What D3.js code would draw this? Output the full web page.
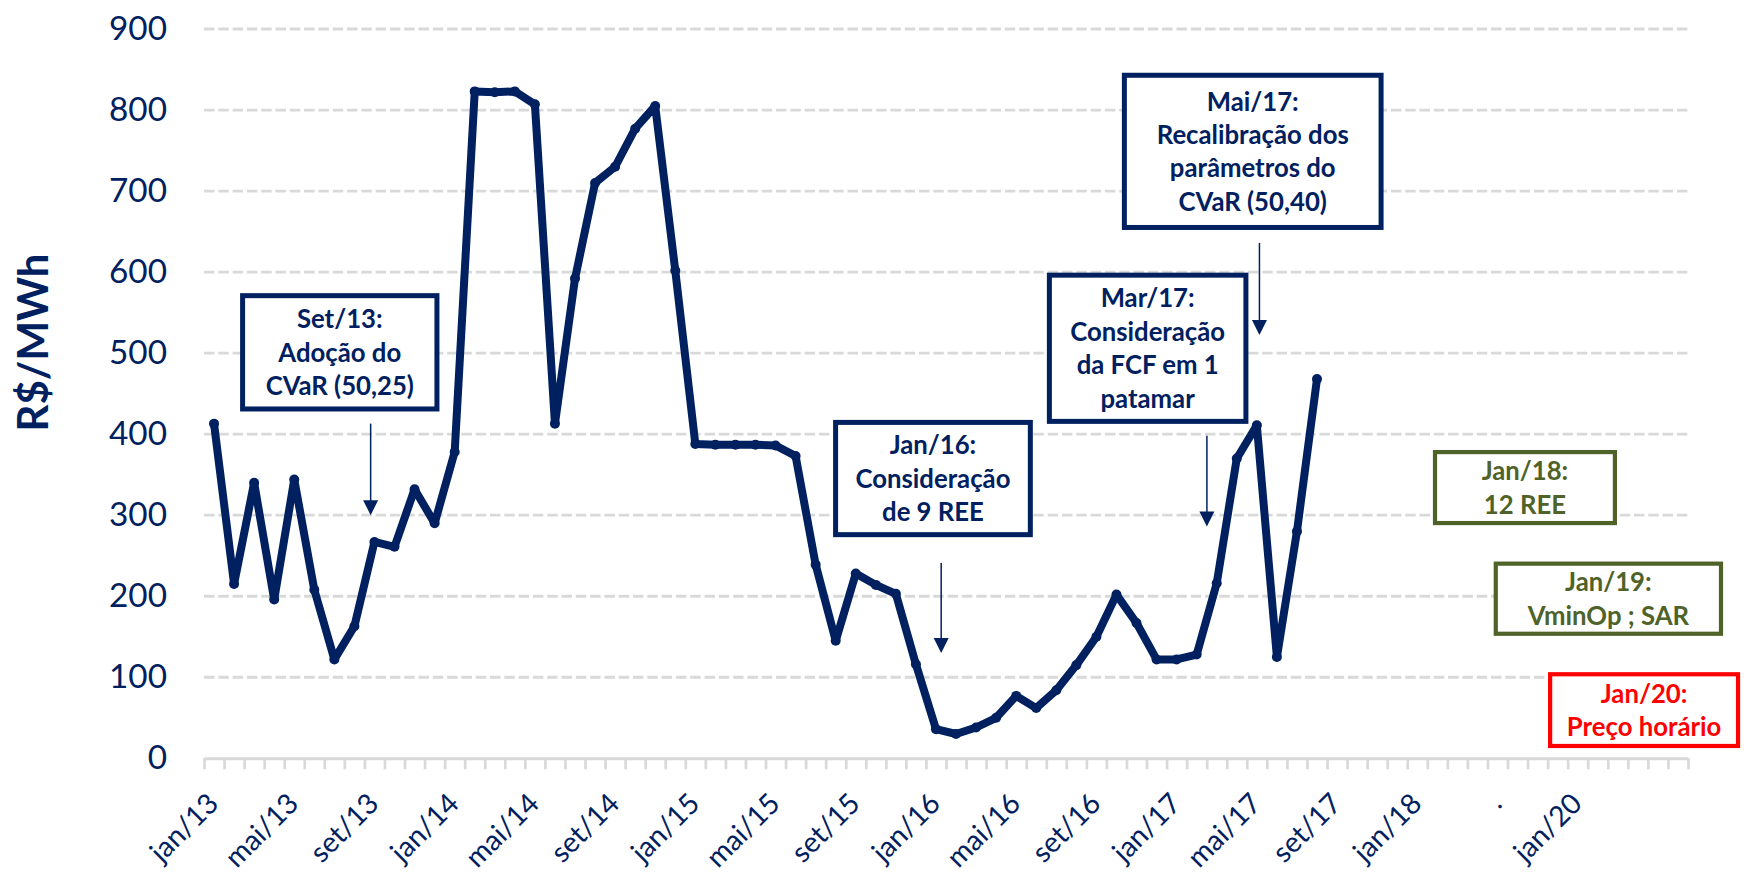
<!DOCTYPE html>
<html>
<head>
<meta charset="utf-8">
<script src="https://cdn.jsdelivr.net/npm/d3@7"></script>
<style>
  html, body { margin: 0; padding: 0; background: #fff; }
  svg { display: block; }
</style>
</head>
<body>
<svg id="chart" width="1744" height="873"></svg>
<script>
// month names + years for the monthly series
const monthNames = ["jan", "fev", "mar", "abr", "mai", "jun", "jul", "ago", "set", "out", "nov", "dez"];
const years = ["13", "14", "15", "16", "17"];
// categories after dez/17 (only some of them have a label)
const tailLabels = ["jan/18", "", "", "", ".", "", "", "", "jan/20", "", "", "", "", ""];

// PLD / CMO values, R$/MWh, jan/13 .. ago/17
const prices = [
  413, 215, 340, 196, 344, 208, 122, 163, 267, 261, 332, 290,
  378, 823, 822, 823, 807, 413, 592, 710, 730, 777, 805, 602,
  388, 387, 387, 387, 386, 373, 239, 145, 228, 214, 203, 116,
  36, 30, 38, 50, 77, 62, 84, 115, 150, 202, 167, 122,
  122, 128, 216, 370, 411, 125, 280, 468
];

const yTicks = [0, 100, 200, 300, 400, 500, 600, 700, 800, 900];

// annotation texts
const notes = [
  ["Set/13:", "Adoção do", "CVaR (50,25)"],
  ["Jan/16:", "Consideração", "de 9 REE"],
  ["Mar/17:", "Consideração", "da FCF em 1", "patamar"],
  ["Mai/17:", "Recalibração dos", "parâmetros do", "CVaR (50,40)"],
  ["Jan/18:", "12 REE"],
  ["Jan/19:", "VminOp ; SAR"],
  ["Jan/20:", "Preço horário"]
];
const noteColors = ["#002060", "#002060", "#002060", "#002060", "#4F6228", "#4F6228", "#FF0000"];

// box placement, in chart units (category index, R$/MWh)
const noteLayout = [
  {x0: 1.80, x1: 11.74, top: 574, bottom: 428, arrow: {x: 8.31, from: 413, to: 300}},
  {x0: 31.37, x1: 41.33, top: 417.6, bottom: 272.9, arrow: {x: 36.76, from: 241, to: 130}},
  {x0: 42.03, x1: 52.08, top: 599.3, bottom: 412.7, arrow: {x: 50.01, from: 398, to: 286}},
  {x0: 45.77, x1: 58.82, top: 846, bottom: 652, arrow: {x: 52.63, from: 636, to: 522.5}},
  {x0: 61.28, x1: 70.46, top: 380.5, bottom: 287.7},
  {x0: 64.31, x1: 75.75, top: 242.8, bottom: 151.1},
  {x0: 67.02, x1: 76.60, top: 106.3, bottom: 12.6}
];

const categories = [];
years.forEach(yr => monthNames.forEach(m => categories.push(m + "/" + yr)));
tailLabels.forEach(l => categories.push(l));

const NAVY = "#002060";
const GRID = "#D9D9D9";
const FONT = "Lato, 'Open Sans', sans-serif";

const svg = d3.select("#chart");
const plotL = 204, plotR = 1688, plotT = 29, plotB = 758.3;

// pick a font size so that a sample string gets the width it has in the original (Calibri) picture
const fitSize = (sample, weight, width) => {
  const t = svg.append("text")
    .attr("font-family", FONT).attr("font-weight", weight).attr("font-size", 100)
    .text(sample);
  const len = t.node().getComputedTextLength();
  t.remove();
  return len > 0 ? 100 * width / len : 30;
};
const tickSize = fitSize("900", "normal", 58);
const catSize = fitSize("mai/13", "normal", 90);
const titleSize = fitSize("R$/MWh", "bold", 178);
const noteSize = (fitSize("Recalibração dos", "bold", 194) + fitSize("CVaR (50,25)", "bold", 147)) / 2;

const y = d3.scaleLinear().domain([0, 900]).range([plotB, plotT]);
const xEdge = d3.scaleLinear().domain([0, categories.length]).range([plotL, plotR]);
const xBand = d3.scaleBand().domain(d3.range(categories.length)).range([plotL, plotR]);
const xMid = i => xBand(i) + xBand.bandwidth() / 2;

// gridlines (dashed), no line at 0 - the axis is there
svg.append("g")
  .selectAll("line")
  .data(yTicks.filter(t => t > 0))
  .join("line")
  .attr("x1", plotL).attr("x2", plotR)
  .attr("y1", d => y(d)).attr("y2", d => y(d))
  .attr("stroke", GRID)
  .attr("stroke-width", 2.8)
  .attr("stroke-dasharray", "10.5,3.8");

// y tick labels
const yAxis = svg.append("g")
  .attr("transform", `translate(${plotL},0)`)
  .call(d3.axisLeft(y).tickValues(yTicks).tickSize(0).tickPadding(37));
yAxis.select(".domain").remove();
yAxis.selectAll("text")
  .attr("font-family", FONT)
  .attr("font-size", tickSize)
  .attr("fill", NAVY);

// x axis: line + ticks on category edges
const xAxis = svg.append("g")
  .attr("transform", `translate(0,${plotB})`)
  .call(d3.axisBottom(xEdge).tickValues(d3.range(categories.length + 1)).tickSize(11).tickSizeOuter(0).tickFormat(""));
xAxis.select(".domain").attr("stroke", GRID).attr("stroke-width", 3);
xAxis.selectAll(".tick line").attr("stroke", GRID).attr("stroke-width", 2.7);

// x labels, every 4th category, rotated -45
svg.append("g")
  .selectAll("text")
  .data(d3.range(categories.length).filter(i => i % 4 === 0 && categories[i] !== ""))
  .join("text")
  .attr("transform", i => `translate(${xMid(i) + 6},${plotB + 47}) rotate(-45)`)
  .attr("text-anchor", "end")
  .attr("font-family", FONT)
  .attr("font-size", catSize)
  .attr("fill", NAVY)
  .text(i => categories[i]);

// y title
svg.append("text")
  .attr("transform", "translate(48,342.5) rotate(-90)")
  .attr("text-anchor", "middle")
  .attr("font-family", FONT)
  .attr("font-weight", "bold")
  .attr("font-size", titleSize)
  .attr("fill", NAVY)
  .text("R$/MWh");

// the price line
const line = d3.line()
  .x((d, i) => xMid(i))
  .y(d => y(d));

svg.append("path")
  .datum(prices)
  .attr("d", line)
  .attr("fill", "none")
  .attr("stroke", NAVY)
  .attr("stroke-width", 8)
  .attr("stroke-linejoin", "round")
  .attr("stroke-linecap", "round");

svg.append("g")
  .selectAll("circle")
  .data(prices)
  .join("circle")
  .attr("cx", (d, i) => xMid(i))
  .attr("cy", d => y(d))
  .attr("r", 5)
  .attr("fill", NAVY);

// annotation boxes
const LINE_H = 33.4;
notes.forEach((lines, k) => {
  const lay = noteLayout[k];
  const col = noteColors[k];
  const g = svg.append("g");
  const sw = k < 4 ? 5 : 4.2;
  const bx0 = xEdge(lay.x0), bx1 = xEdge(lay.x1);
  const by0 = y(lay.top), by1 = y(lay.bottom);
  g.append("rect")
    .attr("x", bx0 + sw / 2).attr("y", by0 + sw / 2)
    .attr("width", bx1 - bx0 - sw).attr("height", by1 - by0 - sw)
    .attr("fill", "#fff")
    .attr("stroke", col)
    .attr("stroke-width", sw);
  const cx = (bx0 + bx1) / 2;
  const cy = (by0 + by1) / 2;
  const first = cy - (lines.length - 1) * LINE_H / 2;
  g.selectAll("text")
    .data(lines)
    .join("text")
    .attr("x", cx)
    .attr("y", (d, i) => first + i * LINE_H + noteSize * 0.36)
    .attr("text-anchor", "middle")
    .attr("font-family", FONT)
    .attr("font-weight", "bold")
    .attr("font-size", noteSize)
    .attr("fill", col)
    .text(d => d);

  if (lay.arrow) {
    const ax = xEdge(lay.arrow.x);
    const ay0 = y(lay.arrow.from), ay1 = y(lay.arrow.to);
    g.append("line")
      .attr("x1", ax).attr("x2", ax)
      .attr("y1", ay0).attr("y2", ay1 - 12)
      .attr("stroke", NAVY)
      .attr("stroke-width", 1.5);
    g.append("path")
      .attr("d", `M${ax - 7.5},${ay1 - 15} L${ax + 7.5},${ay1 - 15} L${ax},${ay1} Z`)
      .attr("fill", NAVY);
  }
});
</script>
</body>
</html>
